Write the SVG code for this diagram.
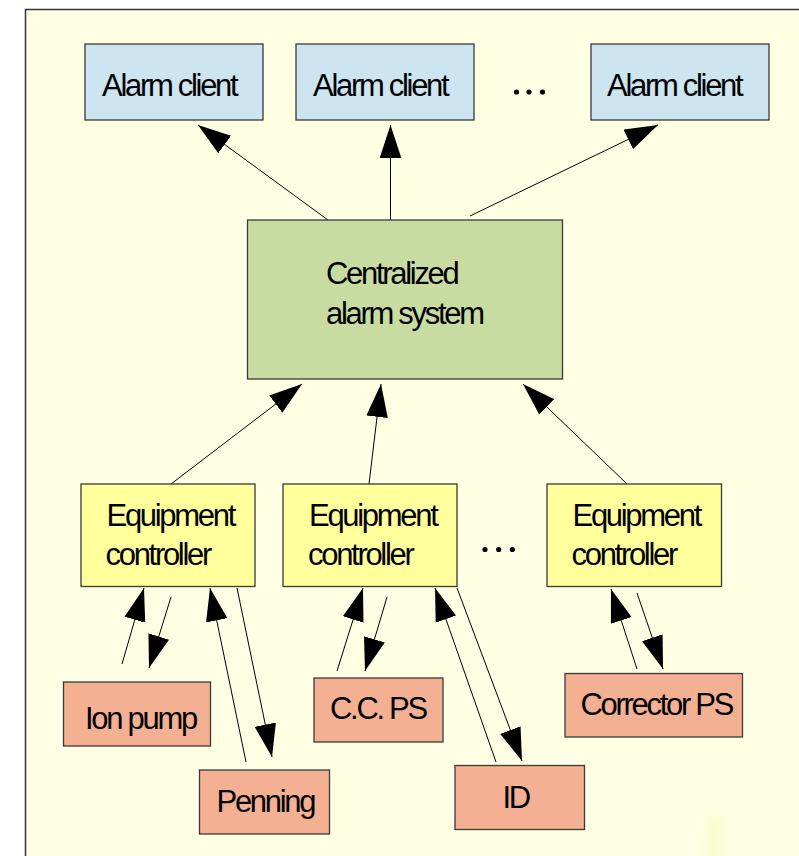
<svg xmlns="http://www.w3.org/2000/svg" width="799" height="856" viewBox="0 0 799 856">
  <defs>
    <marker id="ah" markerUnits="userSpaceOnUse" markerWidth="33" markerHeight="22" viewBox="0 0 32 21" refX="32" refY="10.5" orient="auto">
      <path d="M0,0 L32,10.5 L0,21 Z" fill="#000"/>
    </marker>
    <filter id="blur" x="-1" y="-1" width="3" height="3">
      <feGaussianBlur stdDeviation="6"/>
    </filter>
  </defs>
  <style>
    .box { stroke: #3a3a3a; stroke-width: 1.3; }
    .client { fill: #cde5f1; }
    .central { fill: #c8dca2; }
    .eq { fill: #ffff9c; }
    .dev { fill: #f4b092; }
    .t { font-family: "Liberation Sans", Arial, sans-serif; font-size: 31px; letter-spacing: -2.3px; fill: #000; }
    .c { stroke: #000; stroke-width: 1; fill: none; marker-end: url(#ah); }
  </style>
  <rect x="0" y="0" width="799" height="856" fill="#ffffff"/>
  <rect x="25.5" y="9.5" width="800" height="870" fill="#ffffe4" stroke="#333" stroke-width="1.5"/>
  <rect x="706" y="815" width="16" height="50" fill="#eef6b0" opacity="0.4" filter="url(#blur)"/>

  <g id="connectors">
    <line class="c" x1="328" y1="220" x2="198" y2="125"/>
    <line class="c" x1="390.5" y1="220" x2="390.5" y2="125"/>
    <line class="c" x1="470" y1="216" x2="658" y2="125"/>
    <line class="c" x1="171" y1="484" x2="302" y2="384"/>
    <line class="c" x1="369" y1="484" x2="381" y2="384"/>
    <line class="c" x1="627" y1="484" x2="523" y2="384"/>
    <line class="c" x1="122" y1="664" x2="144" y2="588"/>
    <line class="c" x1="171" y1="597" x2="149" y2="668"/>
    <line class="c" x1="246" y1="762" x2="210" y2="588"/>
    <line class="c" x1="237" y1="588" x2="272" y2="757"/>
    <line class="c" x1="337" y1="671" x2="363" y2="588"/>
    <line class="c" x1="387" y1="597" x2="365" y2="671"/>
    <line class="c" x1="496" y1="762" x2="435" y2="588"/>
    <line class="c" x1="457" y1="588" x2="522" y2="761"/>
    <line class="c" x1="637" y1="669" x2="611" y2="589"/>
    <line class="c" x1="637" y1="593" x2="663" y2="669"/>
  </g>

  <g id="client1"><rect class="box client" x="85" y="44" width="178" height="76"/><text class="t" x="102" y="96">Alarm client</text></g>
  <g id="client2"><rect class="box client" x="296" y="44" width="178" height="76"/><text class="t" x="313" y="96">Alarm client</text></g>
  <g id="client3"><rect class="box client" x="591" y="44" width="178" height="76"/><text class="t" x="607" y="96">Alarm client</text></g>
  <g id="dots-top" fill="#000"><circle cx="516.5" cy="92" r="2.6"/><circle cx="529" cy="92" r="2.6"/><circle cx="542.5" cy="92" r="2.6"/></g>

  <g id="central"><rect class="box central" x="247.5" y="220" width="315" height="159"/>
    <text class="t" x="326" y="284">Centralized</text>
    <text class="t" x="326" y="324">alarm system</text>
  </g>

  <g id="eq1"><rect class="box eq" x="81" y="484" width="174" height="102.5"/>
    <text class="t" x="106.5" y="526">Equipment</text><text class="t" x="105.5" y="565">controller</text></g>
  <g id="eq2"><rect class="box eq" x="283" y="484" width="174" height="102.5"/>
    <text class="t" x="309" y="526">Equipment</text><text class="t" x="308" y="565">controller</text></g>
  <g id="eq3"><rect class="box eq" x="547" y="484" width="174.5" height="102.5"/>
    <text class="t" x="572.5" y="526">Equipment</text><text class="t" x="571.5" y="565">controller</text></g>
  <g id="dots-mid" fill="#000"><circle cx="485" cy="549.5" r="2.6"/><circle cx="498.7" cy="549.5" r="2.6"/><circle cx="512.3" cy="549.5" r="2.6"/></g>

  <g id="ionpump"><rect class="box dev" x="63.5" y="682" width="147" height="64"/><text class="t" x="85" y="729">Ion pump</text></g>
  <g id="penning"><rect class="box dev" x="199.5" y="770" width="130" height="64"/><text class="t" x="216.5" y="812">Penning</text></g>
  <g id="ccps"><rect class="box dev" x="314" y="678" width="129" height="64"/><text class="t" x="330" y="719">C.C. PS</text></g>
  <g id="id"><rect class="box dev" x="455" y="765.5" width="129.5" height="64"/><text class="t" x="502.5" y="808">ID</text></g>
  <g id="correctorps"><rect class="box dev" x="565" y="673.5" width="177.5" height="63.5"/><text class="t" x="580.5" y="715">Corrector PS</text></g>
</svg>
